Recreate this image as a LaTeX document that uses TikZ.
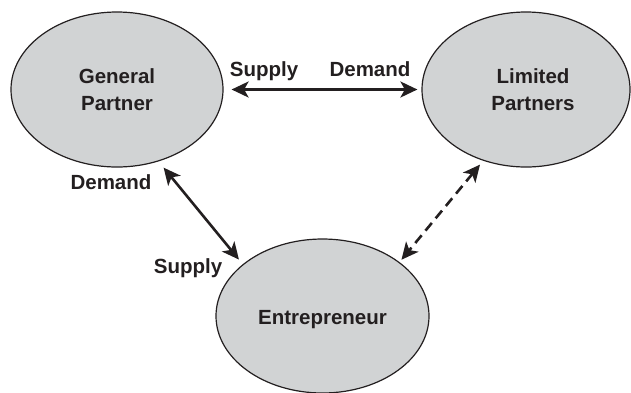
\documentclass[tikz,border=0pt]{standalone}
\usepackage{fontspec}
\setmainfont{Liberation Sans}
\usetikzlibrary{shapes.geometric,arrows.meta}
\definecolor{ink}{HTML}{231F20}
\definecolor{bubble}{HTML}{D1D3D4}
\begin{document}
\begin{tikzpicture}[x=1pt,y=-1pt,
  party/.style={ellipse, draw=ink, line width=1.2pt, fill=bubble, text=ink,
    font=\fontsize{20.5}{27}\selectfont\bfseries, align=center, inner sep=0pt},
  lbl/.style={text=ink, font=\fontsize{20.5}{24}\selectfont\bfseries, anchor=base, inner sep=0pt},
  tipx/.tip={Stealth[length=17pt,width=16pt,inset=4.5pt]},
  link/.style={draw=ink, line width=2.6pt, tipx-tipx},
]
\useasboundingbox (0,0) rectangle (631,392);
\node[party, minimum width=212pt, minimum height=155pt] (gp) at (117,89.5) {General\\Partner};
\node[party, minimum width=208pt, minimum height=155pt] (lp) at (526,89.5) {\hspace*{14pt}Limited\\\hspace*{14pt}Partners};
\node[party, minimum width=213pt, minimum height=154pt, text height=21pt] (en) at (322.5,316) {Entrepreneur};

\draw[link, shorten <=8pt, shorten >=4pt] (gp.east) -- (lp.west);
\draw[link, shorten <=8pt, shorten >=6pt] (gp.-60) -- (en.147);
\draw[link, dash pattern=on 10pt off 6pt, shorten <=5pt, shorten >=3pt] (lp.-121) -- (en.35);

\node[lbl] (s1) at (264,76) {Supply};
\node[lbl] (d1) at (370,76) {Demand};
\node[lbl] (d2) at (111,189) {Demand};
\node[lbl] (s2) at (188,273) {Supply};
\end{tikzpicture}
\end{document}
